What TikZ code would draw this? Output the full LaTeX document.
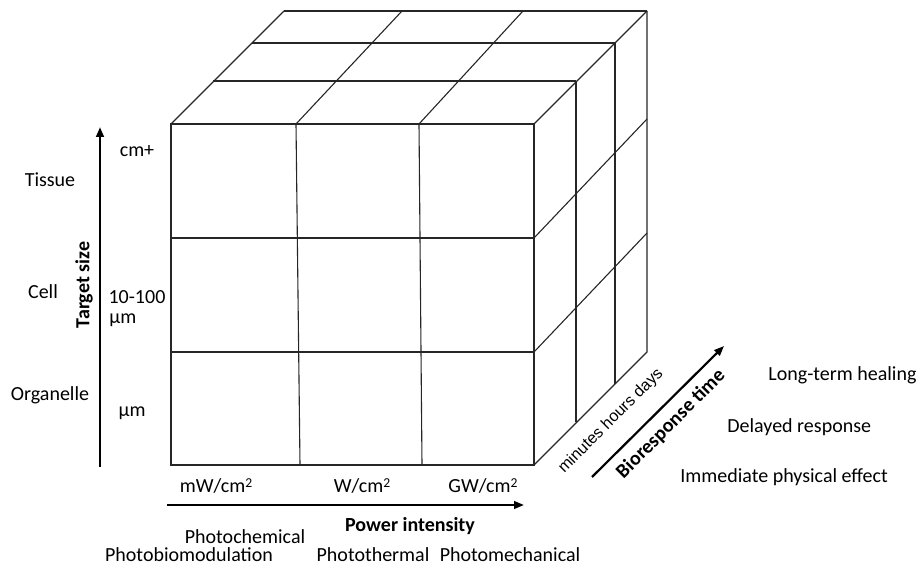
\documentclass[tikz,border=0pt]{standalone}
\usepackage{fontspec}
\setmainfont{Carlito}
\newfontfamily\arialfont{Liberation Sans}
\usetikzlibrary{arrows.meta}
\newcommand{\sqsup}{\raisebox{0.55ex}{\fontsize{6.8}{8}\selectfont 2}}
\tikzset{
  grid/.style={black!85, line width=0.55pt},
  axis/.style={black, line width=1.1pt, -{Triangle[length=5pt,width=3.8pt]}},
  lbl/.style={inner sep=0pt, font=\fontsize{10}{12}\selectfont},
  blbl/.style={inner sep=0pt, font=\fontsize{10}{12}\selectfont\bfseries},
}
\begin{document}
\begin{tikzpicture}[x=0.5pt,y=-0.5pt]
\useasboundingbox (0,0) rectangle (921,567);
% ---- front face
\draw[grid] (171,124) rectangle (534,465);
\draw[grid] (296,124) -- (300,465);
\draw[grid] (419,124) -- (422,465);
\draw[grid] (171,238) -- (534,238);
\draw[grid] (171,352) -- (534,352);
% ---- top face
\draw[grid] (284,11) -- (647,11);
\draw[grid] (252,43) -- (615,43);
\draw[grid] (213,81) -- (576,81);
\draw[grid] (171,124) -- (284,11);
\draw[grid] (296,124) -- (402,11);
\draw[grid] (419,124) -- (523,11);
\draw[grid] (534,124) -- (647,11);
% ---- right face
\draw[grid] (647,11) -- (647,352) -- (534,465);
\draw[grid] (615,43) -- (615,384);
\draw[grid] (576,81) -- (576,422);
\draw[grid] (534,238) -- (647,119);
\draw[grid] (534,352) -- (647,233);
% ---- axes
\coordinate (ta) at (100,467);
\coordinate (tb) at (100,127);
\draw[axis, line width=1.4pt] (ta) -- (tb);
\coordinate (pa) at (167,505);
\coordinate (pb) at (524,505);
\draw[axis] (pa) -- (pb);
\coordinate (ba) at (592,477);
\coordinate (bb) at (724,346);
\draw[axis] (ba) -- (bb);
% ---- axis titles
\node[blbl, rotate=90] (tsize) at (84,285) {Target size};
\node[blbl] (pint) at (410,526) {Power intensity};
\node[blbl, rotate=45] (btime) at (671,424) {Bioresponse time};
\node[inner sep=0pt, rotate=45, font=\arialfont\fontsize{8.1}{10}\selectfont] (mhd) at (611,421) {minutes hours days};
% ---- left labels
\node[lbl] (tissue) at (50,180) {Tissue};
\node[lbl] (cell) at (43,292) {Cell};
\node[lbl] (organelle) at (50,395) {Organelle};
\node[lbl] (cm) at (137,151) {cm+};
\node[lbl] (ten) at (137,297) {10-100};
\node[lbl, anchor=west] (um1) at (109,320) {µm};
\node[lbl] (um2) at (132,413) {µm};
% ---- bottom labels
\node[lbl] (mw) at (216,486) {mW/cm\sqsup};
\node[lbl] (w) at (362,486) {W/cm\sqsup};
\node[lbl] (gw) at (483,486) {GW/cm\sqsup};
\node[lbl] (pchem) at (245,537) {Photochemical};
\node[lbl] (pbio) at (189,555) {Photobiomodulation};
\node[lbl] (ptherm) at (373,555) {Photothermal};
\node[lbl] (pmech) at (510,555) {Photomechanical};
% ---- right labels
\node[lbl, anchor=west] (lth) at (768,375) {Long-term healing};
\node[lbl, anchor=west] (dr) at (727,427) {Delayed response};
\node[lbl, anchor=west] (ipe) at (680,477) {Immediate physical effect};
\end{tikzpicture}
\end{document}
